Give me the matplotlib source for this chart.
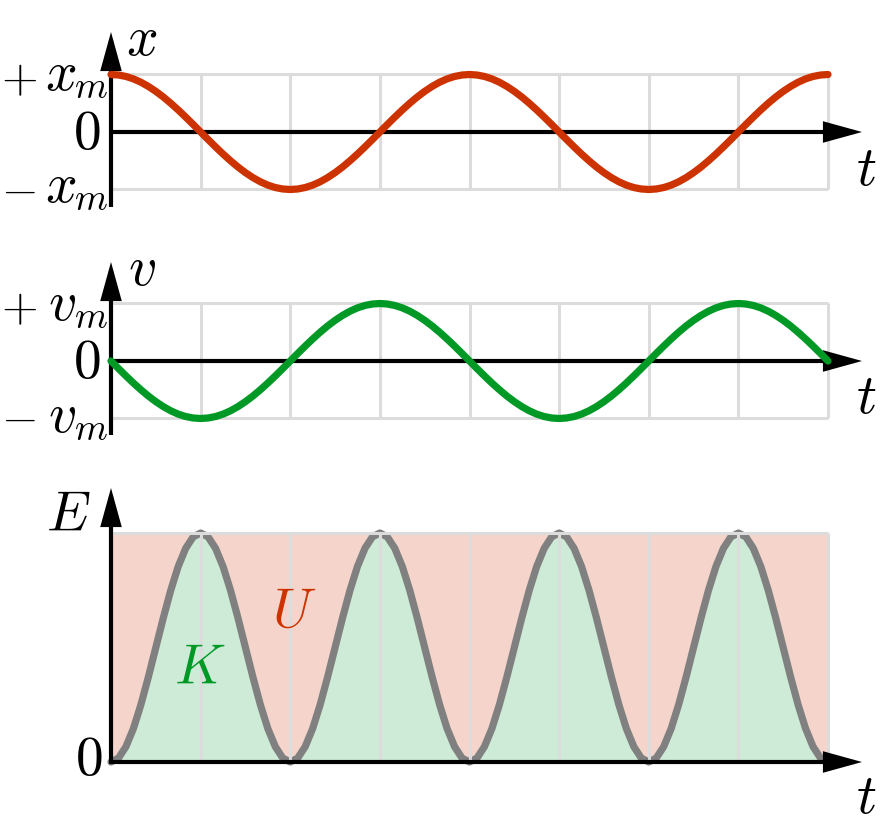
import numpy as np
import matplotlib
matplotlib.use("Agg")
import matplotlib.pyplot as plt
from matplotlib.patches import FancyArrowPatch

plt.rcParams['mathtext.fontset'] = 'cm'

# ---------------- data ----------------
# time in grid units (one grid unit = quarter period), sampled every 1/12 unit
t_vals = np.arange(97) / 12.0
x_vals = [1, .991, .966, .924, .866, .793, .707, .609, .5, .383, .259, .131,
          0, -.131, -.259, -.383, -.5, -.609, -.707, -.793, -.866, -.924, -.966, -.991,
          -1, -.991, -.966, -.924, -.866, -.793, -.707, -.609, -.5, -.383, -.259, -.131,
          0, .131, .259, .383, .5, .609, .707, .793, .866, .924, .966, .991,
          1, .991, .966, .924, .866, .793, .707, .609, .5, .383, .259, .131,
          0, -.131, -.259, -.383, -.5, -.609, -.707, -.793, -.866, -.924, -.966, -.991,
          -1, -.991, -.966, -.924, -.866, -.793, -.707, -.609, -.5, -.383, -.259, -.131,
          0, .131, .259, .383, .5, .609, .707, .793, .866, .924, .966, .991, 1]
v_vals = [0, -.131, -.259, -.383, -.5, -.609, -.707, -.793, -.866, -.924, -.966, -.991,
          -1, -.991, -.966, -.924, -.866, -.793, -.707, -.609, -.5, -.383, -.259, -.131,
          0, .131, .259, .383, .5, .609, .707, .793, .866, .924, .966, .991,
          1, .991, .966, .924, .866, .793, .707, .609, .5, .383, .259, .131,
          0, -.131, -.259, -.383, -.5, -.609, -.707, -.793, -.866, -.924, -.966, -.991,
          -1, -.991, -.966, -.924, -.866, -.793, -.707, -.609, -.5, -.383, -.259, -.131,
          0, .131, .259, .383, .5, .609, .707, .793, .866, .924, .966, .991,
          1, .991, .966, .924, .866, .793, .707, .609, .5, .383, .259, .131, 0]
k_vals = [0, .017, .067, .146, .25, .371, .5, .629, .75, .854, .933, .983,
          1, .983, .933, .854, .75, .629, .5, .371, .25, .146, .067, .017,
          0, .017, .067, .146, .25, .371, .5, .629, .75, .854, .933, .983,
          1, .983, .933, .854, .75, .629, .5, .371, .25, .146, .067, .017,
          0, .017, .067, .146, .25, .371, .5, .629, .75, .854, .933, .983,
          1, .983, .933, .854, .75, .629, .5, .371, .25, .146, .067, .017,
          0, .017, .067, .146, .25, .371, .5, .629, .75, .854, .933, .983,
          1, .983, .933, .854, .75, .629, .5, .371, .25, .146, .067, .017, 0]
E_total = 1.0
grid_t = [1, 2, 3, 4, 5, 6, 7, 8]
t_end = 8

# ---------------- styling ----------------
RED = '#cc3300'
GREEN = '#009926'
GRAY = '#808080'
GRID = '#dcdcdc'
PINK = '#f5d5cb'
LGREEN = '#cdebd6'
FS = 40
FS_SUB = 27
FS_SIGN = 34

W, H = 880, 838
fig = plt.figure(figsize=(W / 100, H / 100), dpi=100)

X0PX, UNIT = 111.0, (828.0 - 111.0) / 8


def make_axes(top_px, bot_px, zero_px, scale_px):
    ax = fig.add_axes([0, 1 - bot_px / H, 1, (bot_px - top_px) / H])
    ax.set_xlim(-X0PX / UNIT, (W - X0PX) / UNIT)
    ax.set_ylim((zero_px - bot_px) / scale_px, (zero_px - top_px) / scale_px)
    ax.axis('off')
    X = lambda px: (px - X0PX) / UNIT
    Y = lambda py: (zero_px - py) / scale_px
    return ax, X, Y


def arrow(ax, p0, p1):
    a = FancyArrowPatch(p0, p1, arrowstyle='-|>,head_length=21,head_width=5.8',
                        mutation_scale=1, lw=3, color='black',
                        shrinkA=0, shrinkB=0, zorder=6, clip_on=False,
                        joinstyle='miter', capstyle='butt')
    ax.add_patch(a)


def osc_panel(top, bot, zero, scale, yvals, color, axis_bot, axis_tip):
    ax, X, Y = make_axes(top, bot, zero, scale)
    ax.vlines(grid_t, -1, 1, color=GRID, lw=2.2, zorder=1)
    ax.hlines([-1, 1], 0, t_end, color=GRID, lw=2.2, zorder=1)
    arrow(ax, (0, Y(axis_bot)), (0, Y(axis_tip)))
    arrow(ax, (0, 0), (X(862), 0))
    ax.plot(t_vals, yvals, color=color, lw=5.2, solid_capstyle='round', zorder=7)
    return ax, X, Y


def amp_label(ax, X, Y, sign, letter, cy_sign, base_y):
    ax.text(X(1), Y(cy_sign), r'$%s$' % sign, fontsize=FS_SIGN, ha='left', va='center')
    ax.text(X(76), Y(base_y), r'$%s$' % letter, fontsize=FS, ha='right', va='baseline')
    ax.text(X(74), Y(base_y + 8), r'$m$', fontsize=FS_SUB, ha='left', va='baseline')


# top panel: displacement
ax1, X, Y = osc_panel(0, 235, 132, 57.5, x_vals, RED, 207, 32)
amp_label(ax1, X, Y, '+', 'x', 80, 90)
amp_label(ax1, X, Y, '-', 'x', 190, 202)
ax1.text(X(100), Y(149), r'$0$', fontsize=FS, ha='right', va='baseline')
ax1.text(X(142), Y(40), r'$x$', fontsize=FS, ha='center', va='center')
ax1.text(X(866), Y(170), r'$t$', fontsize=FS, ha='center', va='center')

# middle panel: velocity
ax2, X, Y = osc_panel(235, 460, 361, 57.5, v_vals, GREEN, 435, 262)
amp_label(ax2, X, Y, '+', 'v', 309, 320)
amp_label(ax2, X, Y, '-', 'v', 418, 432)
ax2.text(X(100), Y(378), r'$0$', fontsize=FS, ha='right', va='baseline')
ax2.text(X(142), Y(270), r'$v$', fontsize=FS, ha='center', va='center')
ax2.text(X(866), Y(398), r'$t$', fontsize=FS, ha='center', va='center')

# bottom panel: energy
ax3, X, Y = make_axes(460, 838, 762, 229.0)
ax3.fill_between(t_vals, 0, k_vals, color=LGREEN, lw=0, zorder=1)
ax3.fill_between(t_vals, k_vals, E_total, color=PINK, lw=0, zorder=1)
ax3.plot(t_vals, k_vals, color=GRAY, lw=5.2, solid_capstyle='round', zorder=2)
ax3.vlines(grid_t, 0, E_total, color=GRID, lw=2.2, zorder=3)
ax3.hlines([E_total], 0, t_end, color=GRID, lw=2.2, zorder=3)
arrow(ax3, (0, Y(763.5)), (0, Y(488)))
arrow(ax3, (X(109.5), 0), (X(862), 0))
ax3.text(X(68), Y(516), r'$E$', fontsize=FS, ha='center', va='center')
ax3.text(X(102), Y(775), r'$0$', fontsize=FS, ha='right', va='baseline')
ax3.text(X(200), Y(669), r'$K$', fontsize=FS, ha='center', va='center', color=GREEN)
ax3.text(X(294), Y(612), r'$U$', fontsize=FS, ha='center', va='center', color=RED)
ax3.text(X(866), Y(798), r'$t$', fontsize=FS, ha='center', va='center')

fig.savefig('out.png', dpi=100)
